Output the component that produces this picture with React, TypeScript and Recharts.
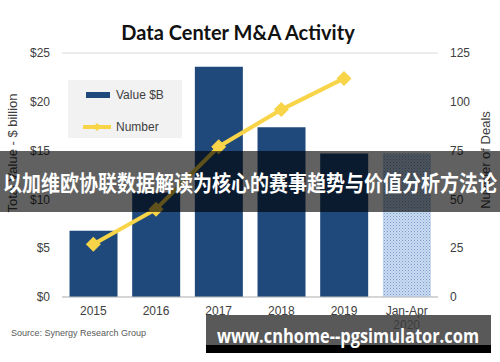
import React from 'react';
import { ComposedChart, Bar, Line, XAxis, YAxis, CartesianGrid, Cell, Legend } from 'recharts';

const categories = ['2015', '2016', '2017', '2018', '2019', 'Jan-Apr 2020'];
const valuesB = [6.8, 10.7, 23.6, 17.4, 14.7, 14.7];
const dealCounts: (number | null)[] = [27, 45, 77, 96, 112, null];
const leftTicks = [0, 5, 10, 15, 20, 25];
const rightTicks = [0, 25, 50, 75, 100, 125];

const data = categories.map((c, i) => ({ cat: c, value: valuesB[i], deals: dealCounts[i] }));

const BLUE = '#1F487B';
const GOLD = '#F8D448';
const TEXT = '#404040';

const Diamond = (props: any) => {
  const { cx, cy, value } = props;
  if (value == null || cx == null || cy == null) return null;
  const r = 7.5;
  return (
    <polygon
      points={`${cx},${cy - r} ${cx + r},${cy} ${cx},${cy + r} ${cx - r},${cy}`}
      fill={GOLD}
      stroke="none"
    />
  );
};

const XTick = (props: any) => {
  const { x, y, payload } = props;
  const parts = String(payload.value).split(' ');
  return (
    <text x={x} y={y} textAnchor="middle" fontSize={12} fill={TEXT}>
      {parts.map((p, i) => (
        <tspan key={i} x={x} dy={i === 0 ? 18 : 14}>
          {p}
        </tspan>
      ))}
    </text>
  );
};

const LegendBox = () => (
  <svg width={114} height={58} style={{ display: 'block' }}>
    <rect x={0} y={0} width={114} height={58} fill="#F2F2F2" />
    <rect x={18} y={12} width={24} height={6} fill={BLUE} />
    <text x={48} y={19} fontSize={12} fill={TEXT}>Value $B</text>
    <line x1={15} y1={47} x2={43} y2={47} stroke={GOLD} strokeWidth={4} />
    <polygon points="29,43 33,47 29,51 25,47" fill={GOLD} />
    <text x={48} y={51} fontSize={12} fill={TEXT}>Number</text>
  </svg>
);

export default function App() {
  return (
    <div
      style={{
        position: 'absolute',
        left: 0,
        top: 0,
        width: 500,
        height: 362,
        background: '#fff',
        fontFamily: '"Liberation Sans", Arial, sans-serif',
      }}
    >
      <ComposedChart
        width={500}
        height={362}
        data={data}
        margin={{ top: 53, right: 0, left: 0, bottom: 35 }}
        barCategoryGap="12%"
      >
        <defs>
          <pattern id="dots" width="3" height="3" patternUnits="userSpaceOnUse">
            <rect width="3" height="3" fill="#C9DBF1" />
            <rect x="0" y="0" width="1" height="1" fill="#7E9CCB" />
            <rect x="1.5" y="1.5" width="1" height="1" fill="#98B2DA" />
          </pattern>
        </defs>
        <CartesianGrid vertical={false} stroke="#D9D9D9" strokeWidth={1} />
        <XAxis
          dataKey="cat"
          height={30}
          tick={<XTick />}
          tickSize={0}
          tickMargin={0}
          interval={0}
          axisLine={{ stroke: '#BFBFBF', strokeWidth: 1 }}
          tickLine={false}
        />
        <YAxis
          yAxisId="left"
          orientation="left"
          width={62}
          domain={[0, 25]}
          ticks={leftTicks}
          tickFormatter={(v: number) => `$${v}`}
          tickSize={0}
          tickMargin={12}
          axisLine={false}
          tickLine={false}
          tick={{ fontSize: 12, fill: TEXT }}
        />
        <YAxis
          yAxisId="right"
          orientation="right"
          width={62}
          domain={[0, 125]}
          ticks={rightTicks}
          tickSize={0}
          tickMargin={12}
          axisLine={false}
          tickLine={false}
          tick={{ fontSize: 12, fill: TEXT, textAnchor: 'start' }}
        />
        <Legend
          layout="horizontal"
          verticalAlign="middle"
          align="center"
          content={() => <LegendBox />}
          wrapperStyle={{ left: 68, top: 80, width: 114, height: 58 }}
        />
        <Bar yAxisId="left" dataKey="value" isAnimationActive={false}>
          {data.map((d, i) => (
            <Cell key={i} fill={i === data.length - 1 ? 'url(#dots)' : BLUE} />
          ))}
        </Bar>
        <Line
          yAxisId="right"
          dataKey="deals"
          stroke={GOLD}
          strokeWidth={4}
          dot={<Diamond />}
          activeDot={false}
          isAnimationActive={false}
          connectNulls={false}
        />
      </ComposedChart>
      <svg
        width={500}
        height={362}
        style={{ position: 'absolute', left: 0, top: 0, pointerEvents: 'none' }}
      >
        <text
          x={238}
          y={40}
          textAnchor="middle"
          fontFamily="Lato, 'Open Sans', sans-serif"
          fontWeight={700}
          fontSize={20}
          fill="#111"
        >
          Data Center M&amp;A Activity
        </text>
        <text
          transform="translate(17,153) rotate(-90)"
          textAnchor="middle"
          fontSize={13}
          fill={TEXT}
        >
          Total Value - $ billion
        </text>
        <text
          transform="translate(490,160) rotate(-90)"
          textAnchor="middle"
          fontSize={13}
          fill={TEXT}
        >
          Number of Deals
        </text>
        <text x={11} y={336} fontSize={9} fill="#595959">
          Source: Synergy Research Group
        </text>
        <rect x={0} y={151} width={500} height={61} fill="rgba(0,0,0,0.62)" />
        <text
          x={250}
          y={191}
          textAnchor="middle"
          fontFamily="'Noto Sans CJK SC', sans-serif"
          fontWeight={700}
          fontSize={21.5}
          fill="#fff"
          textLength={494}
          lengthAdjust="spacingAndGlyphs"
        >
          以加维欧协联数据解读为核心的赛事趋势与价值分析方法论
        </text>
        <rect x={206} y={315} width={285} height={30} fill="rgba(60,60,60,0.85)" />
        <rect x={206} y={345} width={285} height={8} fill="#000" />
        <text
          x={348}
          y={343}
          textAnchor="middle"
          fontFamily="'Open Sans', 'Noto Sans', sans-serif"
          fontWeight={700}
          fontSize={19}
          fill="#fff"
          textLength={262}
          lengthAdjust="spacingAndGlyphs"
        >
          www.cnhome--pgsimulator.com
        </text>
      </svg>
    </div>
  );
}
